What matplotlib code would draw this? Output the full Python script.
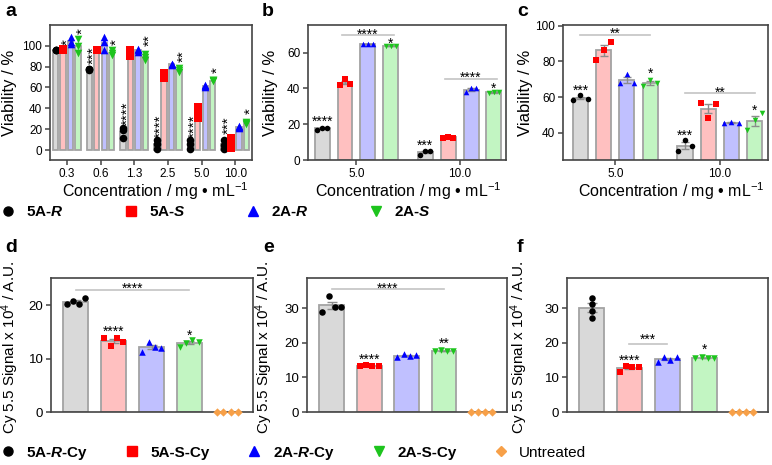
import numpy as np
import matplotlib
matplotlib.use('Agg')
import matplotlib.pyplot as plt
from matplotlib.lines import Line2D

plt.rcParams['font.family'] = ['Liberation Sans', 'DejaVu Sans']
plt.rcParams['mathtext.fontset'] = 'custom'
plt.rcParams['mathtext.rm'] = 'Liberation Sans'
plt.rcParams['mathtext.it'] = 'Liberation Sans:italic'
plt.rcParams['mathtext.bf'] = 'Liberation Sans:bold'
plt.rcParams['mathtext.bfit'] = 'Liberation Sans:bold:italic'

# ------------------------------------------------------------------ data
conc_a = ['0.3', '0.6', '1.3', '2.5', '5.0', '10.0']
a_5AR = [[96, 96, 96], [77, 78, 78], [12, 19, 21], [1, 6, 10], [1, 6, 10], [1, 5, 10]]
a_5AS = [[96, 97, 96], [96, 96, 96], [90, 93, 96], [69, 71, 74], [31, 36, 41], [2, 7, 12]]
a_2AR = [[102, 104, 108], [96, 104, 108], [94, 96, 97], [82, 83, 83], [60, 61, 62], [21, 22, 23]]
a_2AS = [[93, 100, 107], [91, 93, 96], [86, 89, 92], [75, 77, 79], [66, 67, 67], [25, 26, 27]]
# (group, series, y, label)
a_stars = [(0, 1, 104, '*'), (0, 3, 114, '*'), (1, 0, 91, '***'), (1, 3, 104, '*'),
           (2, 0, 35, '****'), (2, 3, 105, '**'), (3, 0, 23, '****'), (3, 3, 90, '**'),
           (4, 0, 23, '****'), (4, 3, 77, '*'), (5, 0, 24, '***'), (5, 3, 37, '*')]

conc_bc = ['5.0', '10.0']
b_5AR = [[17, 18, 18], [3, 5, 5]]
b_5AS = [[42, 45.5, 42.5], [12.5, 13, 12.5]]
b_2AR = [[65, 65, 65], [38, 40, 40]]
b_2AS = [[63.5, 63.5, 63.5], [37.5, 38, 38]]
b_stars = [(0, 0, 23.3, '****'), (0, 3, 67.3, '*'), (1, 0, 10.2, '***'), (1, 3, 42.0, '*')]
b_lines = [(0, 1, 3, 69.9, 72.3, '****'), (1, 1, 3, 45.1, 48.1, '****')]

c_5AR = [[58.5, 61, 59], [29.5, 36, 32.5]]
c_5AS = [[81, 86.5, 91], [56.5, 48, 56]]
c_2AR = [[68, 73, 68], [45.5, 45.8, 45.5]]
c_2AS = [[66, 69.5, 68], [41.5, 47, 50.8]]
c_stars = [(0, 0, 65.5, '***'), (0, 3, 74.9, '*'), (1, 0, 40.0, '***'), (1, 3, 54.2, '*')]
c_lines = [(0, 0, 3, 94.9, 97.4, '**'), (1, 0, 3, 62.1, 64.7, '**')]

cy_groups = ['5A-R-Cy', '5A-S-Cy', '2A-R-Cy', '2A-S-Cy', 'Untreated']
d_vals = [[20.2, 20.8, 20.2, 21.4], [13.9, 12.4, 13.9, 13.2], [11.3, 13.2, 12.1, 11.9],
          [12.1, 13.0, 13.5, 13.2], [0, 0, 0, 0]]
d_stars = [(1, 15.8, '****'), (3, 15.0, '*')]
d_lines = [(0, 3, 22.9, 23.8, '****')]

e_vals = [[29.0, 33.6, 30.5, 30.3], [13.3, 13.5, 13.3, 13.3], [16.0, 16.7, 16.2, 16.4],
          [17.6, 17.9, 17.6, 17.6], [0, 0, 0, 0]]
e_stars = [(1, 16.2, '****'), (3, 20.8, '**')]
e_lines = [(0, 3, 35.5, 36.8, '****')]

f_vals = [[33.1, 31.2, 29.2, 27.1], [11.7, 13.3, 12.9, 12.9], [14.6, 15.9, 15.1, 15.8],
          [15.6, 15.8, 15.6, 15.6], [0, 0, 0, 0]]
f_stars = [(1, 15.9, '****'), (3, 19.2, '*')]
f_lines = [(1, 2, 19.8, 21.9, '***')]

# ------------------------------------------------------------------ styles
mk_col = ['#000000', '#ff0000', '#0000ff', '#1dc41d', '#f7a048']
bar_col = ['#d9d9d9', '#ffc0c0', '#c0c0ff', '#c2f5c2', '#ffffff']
markers = ['o', 's', '^', 'v', 'D']
EDGE = '#a3a3a3'
SPINE = '#444444'
LINEC = '#c4c4c4'

fig = plt.figure(figsize=(7.72, 4.65), dpi=100)

def px_ax(l, r, t, b):
    return fig.add_axes([l / 772, 1 - b / 465, (r - l) / 772, (b - t) / 465])

def style(ax, fs):
    for sp in ax.spines.values():
        sp.set_color(SPINE)
        sp.set_linewidth(1.2)
    ax.tick_params(axis='both', direction='out', length=3.5, width=1.1, color=SPINE,
                   labelsize=fs, pad=2)

def star(ax, x, y, s, fs, rot=False):
    if rot:
        ax.annotate(s, (x, y), xytext=(0.55 * fs, 0), textcoords='offset points',
                    ha='center', va='baseline', rotation=90, rotation_mode='anchor',
                    fontsize=fs, annotation_clip=False)
    else:
        ax.annotate(s, (x, y), xytext=(0, -0.55 * fs), textcoords='offset points',
                    ha='center', va='baseline', fontsize=fs, annotation_clip=False)

def grouped(ax, series, width, step, ms, jit, err=True):
    n = len(series)
    ng = len(series[0])
    offs = (np.arange(n) - (n - 1) / 2) * step
    for si, ser in enumerate(series):
        for g in range(ng):
            pts = np.array(ser[g], float)
            x = g + offs[si]
            m = pts.mean()
            ax.bar(x, m, width=width, color=bar_col[si], edgecolor=EDGE, linewidth=1.3, zorder=2)
            if err:
                sem = pts.std(ddof=1) / np.sqrt(len(pts))
                ax.errorbar(x, m, yerr=sem, color='#8c8c8c', lw=1, capsize=3, capthick=1, zorder=3)
            ax.scatter(x + np.array(jit[:len(pts)]), pts, s=ms, marker=markers[si],
                       color=mk_col[si], zorder=4, linewidths=0)
    return offs

# ------------------------------------------------------------------ panel a
axa = px_ax(50, 252, 25, 160)
offa = grouped(axa, [a_5AR, a_5AS, a_2AR, a_2AS], 0.16, 0.222, 30, [0, 0, 0], err=False)
axa.set_xlim(-0.5, 5.5)
axa.set_ylim(-9.6, 120)
axa.set_yticks([0, 20, 40, 60, 80, 100])
axa.set_xticks(range(len(conc_a)))
axa.set_xticklabels(conc_a)
for g, s, y, t in a_stars:
    star(axa, g + offa[s], y, t, 11, rot=True)

# ------------------------------------------------------------------ panel b
axb = px_ax(308, 506, 25, 160)
offb = grouped(axb, [b_5AR, b_5AS, b_2AR, b_2AS], 0.145, 0.222, 16, [-0.05, 0, 0.05])
axb.set_xlim(-0.47, 1.45)
axb.set_ylim(0, 75.5)
axb.set_yticks([0, 20, 40, 60])
axb.set_xticks(range(len(conc_bc)))
axb.set_xticklabels(conc_bc)
for g, s, y, t in b_stars:
    star(axb, g + offb[s], y, t, 10)
for g, s1, s2, yl, yt, t in b_lines:
    axb.plot([g + offb[s1] - 0.03, g + offb[s2] + 0.03], [yl, yl], color=LINEC, lw=1.2, zorder=1)
    star(axb, g + (offb[s1] + offb[s2]) / 2, yt, t, 10)

# ------------------------------------------------------------------ panel c
axc = px_ax(563, 768, 25, 160)
offc = grouped(axc, [c_5AR, c_5AS, c_2AR, c_2AS], 0.145, 0.222, 16, [-0.07, 0, 0.07])
axc.set_xlim(-0.5, 1.46)
axc.set_ylim(24.6, 100.5)
axc.set_yticks([40, 60, 80, 100])
axc.set_xticks(range(len(conc_bc)))
axc.set_xticklabels(conc_bc)
for g, s, y, t in c_stars:
    star(axc, g + offc[s], y, t, 10)
for g, s1, s2, yl, yt, t in c_lines:
    axc.plot([g + offc[s1], g + offc[s2]], [yl, yl], color=LINEC, lw=1.2, zorder=1)
    star(axc, g + (offc[s1] + offc[s2]) / 2, yt, t, 10)

for ax in (axa, axb, axc):
    style(ax, 8.5)
    ax.set_ylabel('Viability / %', fontsize=12)
    ax.set_xlabel(r'Concentration / mg • mL$^{-1}$', fontsize=11.5, labelpad=1)
axa.yaxis.set_label_coords(-0.165, 0.5)
axb.yaxis.set_label_coords(-0.15, 0.5)
axc.yaxis.set_label_coords(-0.145, 0.5)
axa.xaxis.set_label_coords(0.52, -0.15)
axb.xaxis.set_label_coords(0.505, -0.15)
axc.xaxis.set_label_coords(0.53, -0.15)

# ------------------------------------------------------------------ panels d-f
def cy_panel(ax, vals, stars, lines, ymax, yt, jits):
    xs = np.arange(len(vals))
    for i, v in enumerate(vals):
        pts = np.array(v, float)
        m = pts.mean()
        if i < 4:
            ax.bar(xs[i], m, width=0.66, color=bar_col[i], edgecolor=EDGE, linewidth=1.3, zorder=2)
            sem = pts.std(ddof=1) / np.sqrt(len(pts))
            ax.errorbar(xs[i], m, yerr=sem, color='#8c8c8c', lw=1, capsize=3.5, capthick=1, zorder=3)
        ax.scatter(xs[i] + np.array(jits[i]), pts, s=22 if i < 4 else 18, marker=markers[i],
                   color=mk_col[i], zorder=5, linewidths=0, clip_on=False)
    for i, y, t in stars:
        star(ax, xs[i], y, t, 10)
    for i1, i2, yl, ytx, t in lines:
        ax.plot([xs[i1], xs[i2]], [yl, yl], color=LINEC, lw=1.2, zorder=1)
        star(ax, (xs[i1] + xs[i2]) / 2, ytx, t, 10)
    ax.set_xlim(-0.66, 4.68)
    ax.set_ylim(0, ymax)
    ax.set_yticks(yt)
    ax.set_xticks([])
    style(ax, 9.5)
    ax.set_ylabel(r'Cy 5.5 Signal x 10$^{4}$ / A.U.', fontsize=11)

J4 = [-0.25, -0.08, 0.08, 0.25]
J0 = [0, 0, 0, 0]
JU = [-0.28, -0.1, 0.1, 0.28]
axd = px_ax(51, 253, 278, 412)
cy_panel(axd, d_vals, d_stars, d_lines, 25.1, [0, 10, 20], [J4, J4, J4, J4, JU])
axe = px_ax(307, 507, 278, 412)
cy_panel(axe, e_vals, e_stars, e_lines, 38.8, [0, 10, 20, 30], [J4, J4, J4, J4, JU])
axf = px_ax(567, 768, 278, 412)
cy_panel(axf, f_vals, f_stars, f_lines, 38.8, [0, 10, 20, 30], [J0, J4, J4, J4, JU])
axd.yaxis.set_label_coords(-0.15, 0.48)
axe.yaxis.set_label_coords(-0.16, 0.48)
axf.yaxis.set_label_coords(-0.184, 0.48)

# ------------------------------------------------------------------ panel letters
for lab, x, y in [('a', 5, 3), ('b', 262, 3), ('c', 517, 3), ('d', 5, 239), ('e', 263, 239), ('f', 517, 239)]:
    fig.text(x / 772, 1 - y / 465, lab, fontsize=14, fontweight='bold', va='top', ha='left')

# ------------------------------------------------------------------ legends
names1 = [r'5A-$\mathbfit{R}$', r'5A-$\mathbfit{S}$', r'2A-$\mathbfit{R}$', r'2A-$\mathbfit{S}$']
h1 = [Line2D([], [], ls='none', marker=markers[i], color=mk_col[i], markersize=6.5) for i in range(4)]
leg1 = fig.legend(h1, names1, loc='center left', bbox_to_anchor=(0.5 / 772, 1 - 212 / 465), ncol=4,
                  frameon=False, prop={'size': 11, 'weight': 'bold'}, handlelength=1.0,
                  handletextpad=0.65, columnspacing=3.95, borderpad=0, borderaxespad=0)

names2 = [r'5A-$\mathbfit{R}$-Cy', '5A-S-Cy', r'2A-$\mathbfit{R}$-Cy', '2A-S-Cy', 'Untreated']
h2 = [Line2D([], [], ls='none', marker=markers[i], color=mk_col[i], markersize=6.5 if i < 4 else 5.5)
      for i in range(5)]
leg2 = fig.legend(h2, names2, loc='center left', bbox_to_anchor=(0 / 772, 1 - 453 / 465), ncol=5,
                  frameon=False, prop={'size': 11, 'weight': 'bold'}, handlelength=1.0,
                  handletextpad=0.7, columnspacing=2.4, borderpad=0, borderaxespad=0)
leg2.get_texts()[-1].set_fontweight('normal')

fig.savefig('out.png', dpi=100)
